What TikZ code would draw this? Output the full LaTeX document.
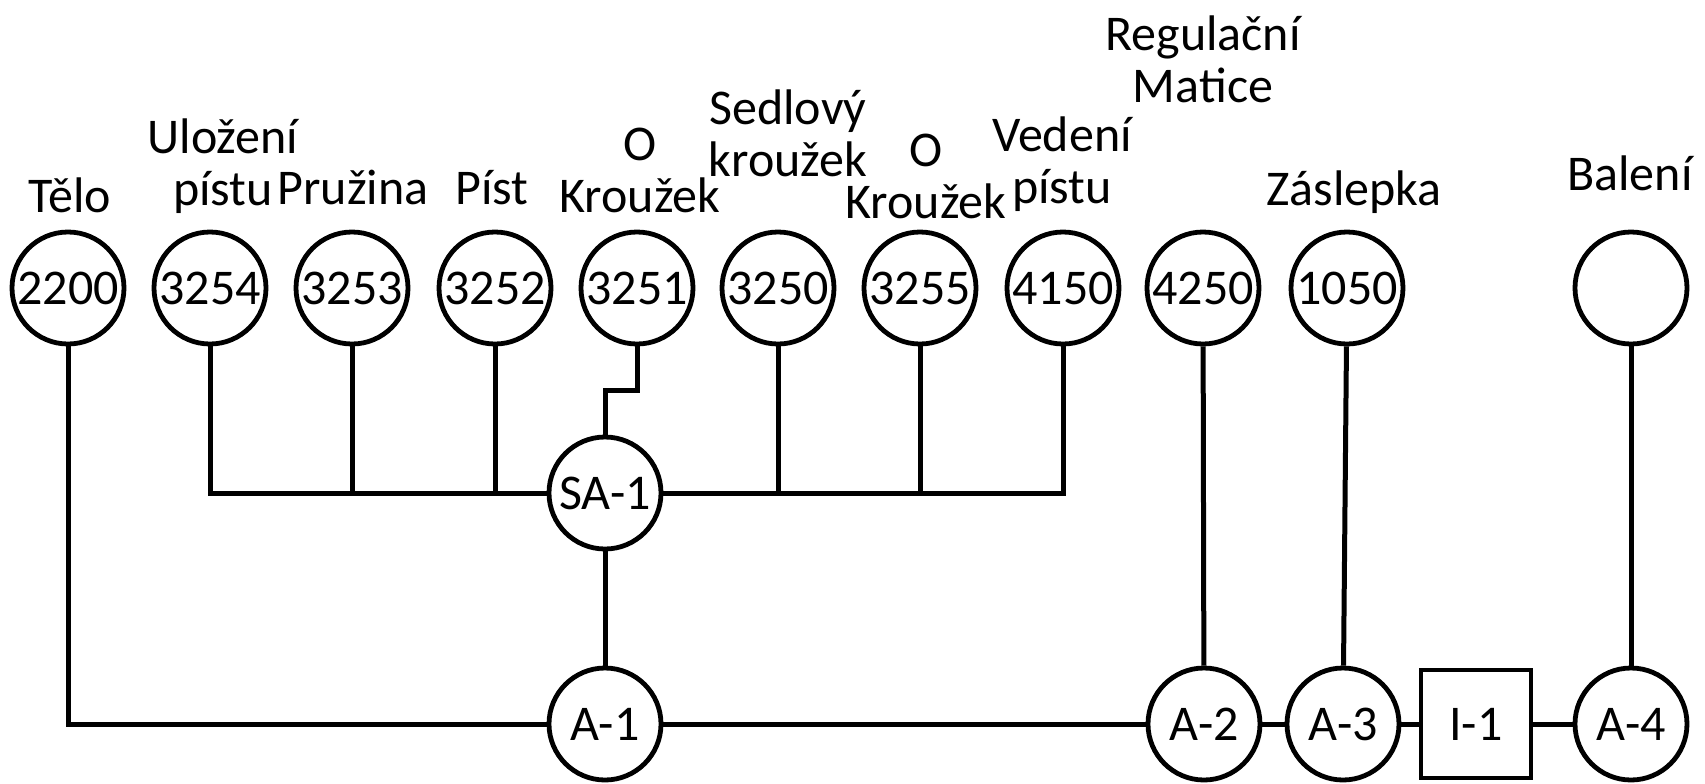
\documentclass[tikz,border=0pt]{standalone}
\usepackage{fontspec}
\setmainfont{Carlito}
\newcommand\twol[2]{\begin{tabular}[b]{@{}c@{}}#1\\#2\end{tabular}}
\begin{document}
\begin{tikzpicture}[x=0.5pt,y=-0.5pt,
  txt/.style={font=\fontsize{25}{26}\selectfont},
  part/.style={draw,circle,line width=2.4pt,minimum size=56pt,inner sep=0pt,txt},
  insp/.style={draw,rectangle,line width=2.4pt,minimum width=55pt,minimum height=54pt,inner sep=0pt,txt},
  lab/.style={anchor=base,inner sep=0pt,txt},
  conn/.style={line width=2.5pt}]
\useasboundingbox (0,0) rectangle (1705,783);
% top row
\node[part] (p2200) at (68,288) {2200};
\node[part] (p3254) at (210,288) {3254};
\node[part] (p3253) at (352,288) {3253};
\node[part] (p3252) at (495,288) {3252};
\node[part] (p3251) at (637,288) {3251};
\node[part] (p3250) at (778,288) {3250};
\node[part] (p3255) at (920,288) {3255};
\node[part] (p4150) at (1063,288) {4150};
\node[part] (p4250) at (1203,288) {4250};
\node[part] (p1050) at (1347,288) {1050};
\node[part] (pbal) at (1631,288) {};
% sub assembly and assemblies
\node[part] (SA1) at (605,493) {SA-1};
\node[part] (A1) at (605,724) {A-1};
\node[part] (A2) at (1204,724) {A-2};
\node[part] (A3) at (1343,724) {A-3};
\node[insp] (I1) at (1476,724) {I-1};
\node[part] (A4) at (1631,724) {A-4};
% labels
\node[lab] (l2200) at (70,212) {Tělo};
\node[lab] (l3254) at (223,205) {\twol{Uložení}{pístu}};
\node[lab] (l3253) at (353,204) {Pružina};
\node[lab] (l3252) at (492,204) {Píst};
\node[lab] (l3251) at (640,212) {\twol{O}{Kroužek}};
\node[lab] (l3250) at (788,176) {\twol{Sedlový}{kroužek}};
\node[lab] (l3255) at (926,218) {\twol{O}{Kroužek}};
\node[lab] (l4150) at (1062,203) {\twol{Vedení}{pístu}};
\node[lab] (l4250) at (1203,102) {\twol{Regulační}{Matice}};
\node[lab] (l1050) at (1354,205) {Záslepka};
\node[lab] (lbal) at (1630,190) {Balení};
% connectors
\coordinate (jog) at (605,390);
\draw[conn] (p2200) |- (A1);
\draw[conn] (p3254) |- (SA1);
\draw[conn] (p3253) -- (p3253 |- SA1);
\draw[conn] (p3252) -- (p3252 |- SA1);
\draw[conn] (p3251) |- (jog) -- (SA1);
\draw[conn] (p3250) -- (p3250 |- SA1);
\draw[conn] (p3255) -- (p3255 |- SA1);
\draw[conn] (p4150) |- (SA1);
\draw[conn] (SA1) -- (A1);
\draw[conn] (A1) -- (A2);
\draw[conn] (A2) -- (A3);
\draw[conn] (A3) -- (I1);
\draw[conn] (I1) -- (A4);
\draw[conn] (p4250) -- (A2);
\draw[conn] (p1050) -- (A3);
\draw[conn] (pbal) -- (A4);
\end{tikzpicture}
\end{document}
